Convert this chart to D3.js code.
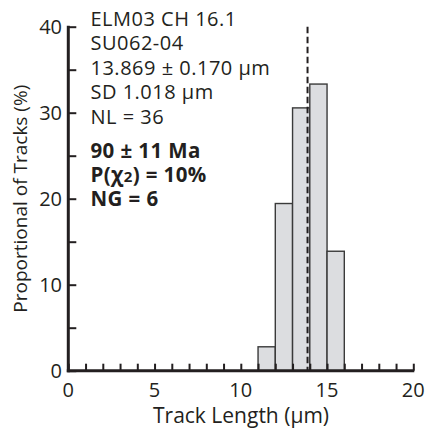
<!DOCTYPE html>
<html><head><meta charset="utf-8">
<script src="https://cdn.jsdelivr.net/npm/d3@7"></script>
<style>body{margin:0;background:#fff}svg{display:block}text{font-family:"Open Sans",sans-serif;fill:#231f20}</style>
</head><body>
<svg id="c" width="428" height="431"></svg>
<script>
const binStarts = [11, 12, 13, 14, 15];
const binWidth = 1;
const percents = [2.78, 19.44, 30.56, 33.33, 13.89];
const meanLength = 13.869;
const xTicks = [0, 5, 10, 15, 20];
const yTicks = [0, 10, 20, 30, 40];
const infoLines = ["ELM03 CH 16.1", "SU062-04", "13.869 ± 0.170 µm", "SD 1.018 µm", "NL = 36"];
const boldLines = ["90 ± 11 Ma", "P(χ2) = 10%", "NG = 6"];

const svg = d3.select("#c");
const x = d3.scaleLinear().domain([0, 20]).range([68.3, 413.3]);
const y = d3.scaleLinear().domain([0, 40]).range([370.7, 26.7]);
const ink = "#231f20";

// bars
svg.append("g").selectAll("rect").data(binStarts).join("rect")
  .attr("x", d => x(d)).attr("width", d => x(d + binWidth) - x(d))
  .attr("y", (d, i) => y(percents[i])).attr("height", (d, i) => y(0) - y(percents[i]))
  .attr("fill", "#dcdde0").attr("stroke", "#3a3a3a").attr("stroke-width", 1.4);

// dashed mean line
svg.append("line").attr("x1", x(meanLength)).attr("x2", x(meanLength))
  .attr("y1", y(40)).attr("y2", y(0))
  .attr("stroke", ink).attr("stroke-width", 2).attr("stroke-dasharray", "6.5,3.5");

// x axis
const xa = svg.append("g").attr("transform", `translate(0,${y(0)})`)
  .call(d3.axisBottom(x).tickValues(d3.range(0, 21, 1)).tickSize(-7).tickFormat(""));
xa.select(".domain").remove();
xa.selectAll(".tick line").attr("stroke", ink).attr("stroke-width", 2);
svg.append("line").attr("x1", x(0) - 1.5).attr("x2", x(20) + 1).attr("y1", y(0)).attr("y2", y(0))
  .attr("stroke", ink).attr("stroke-width", 3);
svg.append("g").selectAll("text").data(xTicks).join("text")
  .attr("x", d => x(d)).attr("y", 397).attr("text-anchor", "middle")
  .attr("font-size", 20).text(d => d);

// y axis
const ya = svg.append("g").attr("transform", `translate(${x(0)},0)`)
  .call(d3.axisLeft(y).tickValues(d3.range(0, 41, 5)).tickSize(-8).tickFormat(""));
ya.select(".domain").remove();
ya.selectAll(".tick line").attr("stroke", ink).attr("stroke-width", 2);
svg.append("line").attr("x1", x(0)).attr("x2", x(0)).attr("y1", y(40) - 1).attr("y2", y(0) + 1.5)
  .attr("stroke", ink).attr("stroke-width", 3);
svg.append("g").selectAll("text").data(yTicks).join("text")
  .attr("x", 62).attr("y", d => y(d) + 7).attr("text-anchor", "end")
  .attr("font-size", 20).text(d => d);

// titles
svg.append("text").attr("x", 241).attr("y", 423).attr("text-anchor", "middle")
  .attr("font-size", 21).text("Track Length (µm)");
svg.append("text").attr("transform", `translate(26.5,${y(20)}) rotate(-90)`).attr("text-anchor", "middle")
  .attr("font-size", 19).text("Proportional of Tracks (%)");

// info text
svg.append("g").selectAll("text").data(infoLines).join("text")
  .attr("x", 90.5).attr("y", (d, i) => 25.7 + i * 24.5).attr("font-size", 20)
  .attr("letter-spacing", 0.5).text(d => d);
const bt = svg.append("g").selectAll("text").data(boldLines).join("text")
  .attr("x", 90.5).attr("y", (d, i) => 158 + i * 24).attr("font-size", 20.5)
  .attr("letter-spacing", 0.4).attr("font-weight", "bold");
bt.each(function(d) {
  const t = d3.select(this);
  const parts = d.split("χ2");
  if (parts.length === 2) {
    t.append("tspan").text(parts[0] + "χ");
    t.append("tspan").attr("font-size", 15).text("2");
    t.append("tspan").text(parts[1]);
  } else t.text(d);
});
</script>
</body></html>
